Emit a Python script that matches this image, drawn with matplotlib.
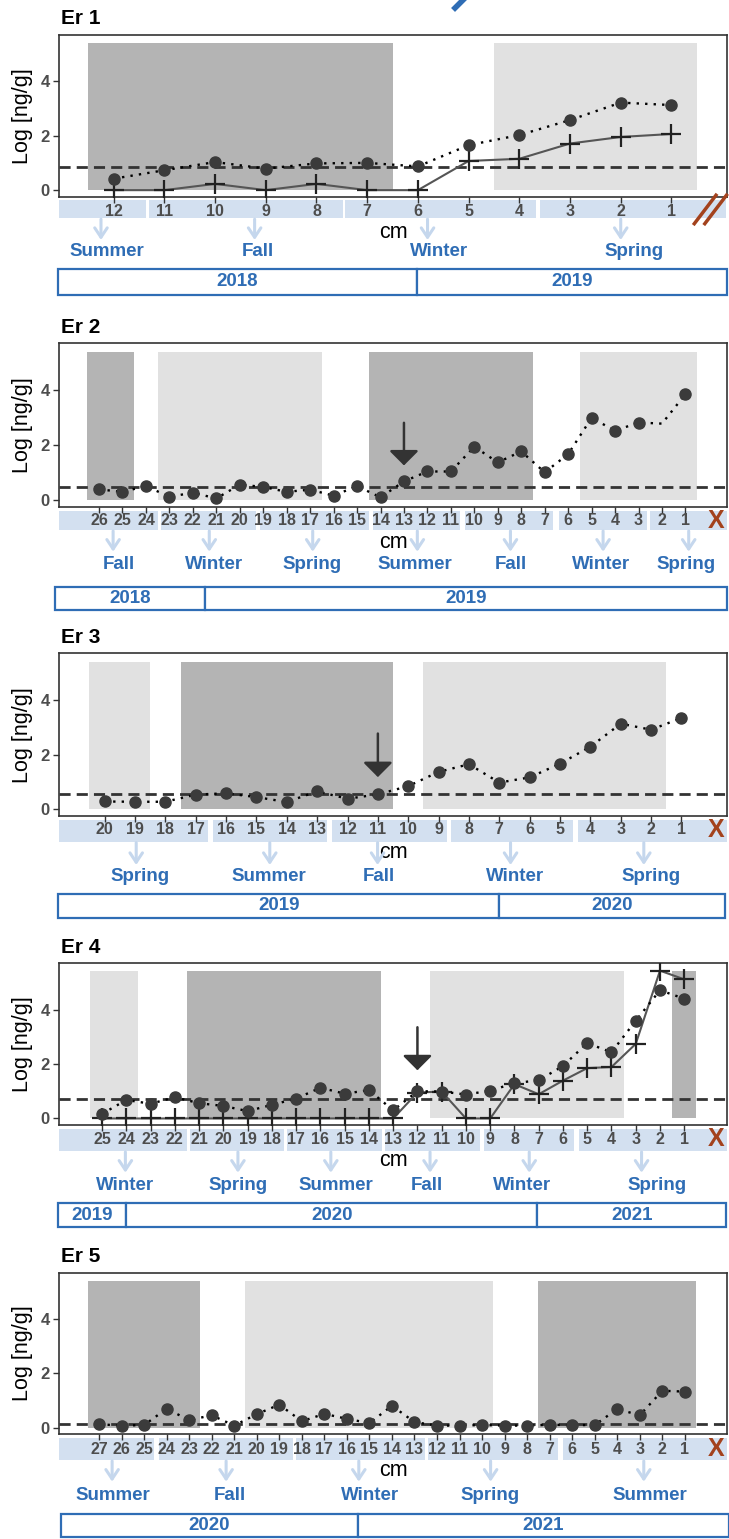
import matplotlib
matplotlib.use("Agg")
import matplotlib.pyplot as plt
import matplotlib.transforms as mtransforms
from matplotlib.patches import Rectangle
from matplotlib.lines import Line2D

plt.rcParams['font.family'] = ['Liberation Sans', 'DejaVu Sans']

W, H = 729, 1539

# ---------------- data ----------------
# Er 1
er1_cm = list(range(12, 0, -1))
er1_dots = [0.42, 0.73, 1.03, 0.79, 0.98, 1.00, 0.87, 1.65, 2.02, 2.57, 3.21, 3.12]
er1_plus = [0, 0, 0.23, 0, 0.23, 0, 0, 1.07, 1.15, 1.71, 1.95, 2.06]
er1_lod = 0.84
er1_dark = [(12.5, 6.5)]
er1_light = [(4.5, 0.5)]
er1_groups = [(13.07, 11.37), (11.30, 7.48), (7.43, 3.67), (3.59, -0.07)]
er1_seasons = ['Summer', 'Fall', 'Winter', 'Spring']
er1_season_arrow = [12.25, 9.22, 5.81, 2.0]
er1_season_text = [12.14, 9.15, 5.58, 1.74]
er1_years = ['2018', '2019']
er1_year_edges = [13.09, 6.02, -0.09]

# Er 2
er2_cm = list(range(26, 0, -1))
er2_dots = [0.39, 0.30, 0.51, 0.12, 0.27, 0.06, 0.56, 0.48, 0.30, 0.38, 0.16, 0.51, 0.10,
            0.68, 1.04, 1.04, 1.94, 1.37, 1.77, 1.01, 1.67, 2.99, 2.52, 2.82, 2.78, 3.85]
er2_no_marker = [2]
er2_lod = 0.48
er2_dark = [(26.5, 24.5), (14.5, 7.5)]
er2_light = [(23.5, 16.5), (5.5, 0.5)]
er2_groups = [(27.69, 23.48), (23.34, 19.29), (19.15, 14.51), (14.33, 10.62),
              (10.38, 6.65), (6.40, 2.65), (2.51, -0.76)]
er2_seasons = ['Fall', 'Winter', 'Spring', 'Summer', 'Fall', 'Winter', 'Spring']
er2_season_arrow = [25.40, 21.30, 16.89, 12.43, 8.46, 4.51, 0.86]
er2_season_text = [25.17, 21.10, 16.93, 12.53, 8.46, 4.59, 0.96]
er2_years = ['2018', '2019']
er2_year_edges = [27.88, 21.5, -0.76]
er2_mark = (13, 2.81, 1.26)

# Er 3
er3_cm = list(range(20, 0, -1))
er3_dots = [0.29, 0.28, 0.28, 0.54, 0.59, 0.45, 0.27, 0.66, 0.39, 0.55,
            0.85, 1.37, 1.65, 0.98, 1.17, 1.67, 2.29, 3.13, 2.91, 3.34]
er3_lod = 0.57
er3_dark = [(17.5, 10.5)]
er3_light = [(20.5, 18.5), (9.5, 1.5)]
er3_groups = [(21.49, 16.60), (16.43, 12.68), (12.51, 8.73), (8.59, 4.58), (4.41, -0.49)]
er3_seasons = ['Spring', 'Summer', 'Fall', 'Winter', 'Spring']
er3_season_arrow = [18.96, 14.56, 11.01, 6.63, 2.24]
er3_season_text = [18.85, 14.60, 10.97, 6.49, 2.00]
er3_years = ['2019', '2020']
er3_year_edges = [21.53, 7.0, -0.44]
er3_mark = (11, 2.77, 1.18)

# Er 4
er4_cm = list(range(25, 0, -1))
er4_dots = [0.17, 0.68, 0.54, 0.78, 0.56, 0.46, 0.27, 0.50, 0.73, 1.13, 0.91, 1.04, 0.30,
            1.00, 0.99, 0.88, 1.02, 1.30, 1.40, 1.93, 2.77, 2.43, 3.59, 4.71, 4.40]
er4_plus = [0, 0, 0, 0, 0, 0, 0, 0, 0, 0, 0, 0, 0,
            0.95, 0.99, 0, 0, 1.26, 0.89, 1.39, 1.85, 1.89, 2.74, 5.43, 5.11]
er4_lod = 0.73
er4_dark = [(21.5, 13.5), (1.5, 0.5)]
er4_light = [(25.5, 23.5), (11.5, 3.5)]
er4_groups = [(26.76, 21.50), (21.37, 17.49), (17.37, 13.47), (13.32, 9.42),
              (9.26, 5.55), (5.34, -0.75)]
er4_seasons = ['Winter', 'Spring', 'Summer', 'Fall', 'Winter', 'Spring']
er4_season_arrow = [24.04, 19.40, 15.57, 11.48, 7.39, 2.76]
er4_season_text = [24.04, 19.40, 15.38, 11.60, 7.70, 2.11]
er4_years = ['2019', '2020', '2021']
er4_year_edges = [26.81, 24.0, 7.05, -0.74]
er4_mark = (12, 3.35, 1.77)

# Er 5
er5_cm = list(range(27, 0, -1))
er5_dots = [0.13, 0.08, 0.10, 0.70, 0.28, 0.46, 0.08, 0.50, 0.85, 0.24, 0.51, 0.33, 0.17, 0.81,
            0.21, 0.08, 0.08, 0.10, 0.08, 0.08, 0.11, 0.10, 0.10, 0.69, 0.46, 1.36, 1.33]
er5_lod = 0.15
er5_dark = [(27.5, 22.5), (7.5, 0.5)]
er5_light = [(20.5, 9.5)]
er5_groups = [(28.76, 24.54), (24.35, 18.38), (18.26, 12.51), (12.39, 6.64), (6.41, -0.86)]
er5_seasons = ['Summer', 'Fall', 'Winter', 'Spring', 'Summer']
er5_season_arrow = [26.42, 21.36, 15.47, 9.62, 2.82]
er5_season_text = [26.38, 21.21, 14.95, 9.64, 2.57]
er5_years = ['2020', '2021']
er5_year_edges = [28.70, 15.5, -0.95]

panels = [
    dict(name='Er 1', cm=er1_cm, dots=er1_dots, plus=er1_plus, hide=[], lod=er1_lod,
         dark=er1_dark, light=er1_light, groups=er1_groups, seasons=er1_seasons,
         s_arrow=er1_season_arrow, s_text=er1_season_text, years=er1_years,
         y_edges=er1_year_edges, mark=None, xlim=(13.07, -0.09)),
    dict(name='Er 2', cm=er2_cm, dots=er2_dots, plus=None, hide=er2_no_marker, lod=er2_lod,
         dark=er2_dark, light=er2_light, groups=er2_groups, seasons=er2_seasons,
         s_arrow=er2_season_arrow, s_text=er2_season_text, years=er2_years,
         y_edges=er2_year_edges, mark=er2_mark, xlim=(27.69, -0.76)),
    dict(name='Er 3', cm=er3_cm, dots=er3_dots, plus=None, hide=[], lod=er3_lod,
         dark=er3_dark, light=er3_light, groups=er3_groups, seasons=er3_seasons,
         s_arrow=er3_season_arrow, s_text=er3_season_text, years=er3_years,
         y_edges=er3_year_edges, mark=er3_mark, xlim=(21.49, -0.49)),
    dict(name='Er 4', cm=er4_cm, dots=er4_dots, plus=er4_plus, hide=[], lod=er4_lod,
         dark=er4_dark, light=er4_light, groups=er4_groups, seasons=er4_seasons,
         s_arrow=er4_season_arrow, s_text=er4_season_text, years=er4_years,
         y_edges=er4_year_edges, mark=er4_mark, xlim=(26.76, -0.75)),
    dict(name='Er 5', cm=er5_cm, dots=er5_dots, plus=None, hide=[], lod=er5_lod,
         dark=er5_dark, light=er5_light, groups=er5_groups, seasons=er5_seasons,
         s_arrow=er5_season_arrow, s_text=er5_season_text, years=er5_years,
         y_edges=er5_year_edges, mark=None, xlim=(28.76, -0.86)),
]

# ---------------- layout (pixels) ----------------
ax_top = [34.7, 343.3, 653.3, 963.3, 1272.7]
ax_bot = [196.7, 506.7, 816.0, 1125.0, 1434.3]
band_off = [(3.3, 21.6), (4, 23.3), (4, 25.7), (4.3, 26), (4, 25.7)]
num_off = [14.5, 14, 14, 14.3, 14.7]
arrow_off = [(22.5, 43.3), (24.3, 45), (26.7, 49), (27, 47.7), (26.7, 47.4)]
season_off = [55.3, 58.3, 60.7, 61, 60.7]
year_off = [(72.6, 98), (80.6, 103.3), (78, 101.7), (78.3, 101.7), (80, 102.7)]

DARK = '#b4b4b4'
LIGHT = '#e1e1e1'
BAND = '#d3e0f0'
ARROW_BLUE = '#c5d7ed'
BLUE = '#2f6db5'
RUST = '#a3421d'
GREY_TXT = '#4d4d4d'


def fx(px):
    return px / W


def fy(px):
    return 1 - px / H


fig = plt.figure(figsize=(W / 100, H / 100), dpi=100)

for i, p in enumerate(panels):
    top, bot = ax_top[i], ax_bot[i]
    ax = fig.add_axes([fx(59.4), fy(bot), fx(726.7) - fx(59.4), (bot - top) / H])
    ax.set_xlim(*p['xlim'])
    ax.set_ylim(-0.24, 5.70)

    for x0, x1 in p['dark']:
        ax.add_patch(Rectangle((x0, 0), x1 - x0, 5.4, fc=DARK, ec='none', zorder=1))
    for x0, x1 in p['light']:
        ax.add_patch(Rectangle((x0, 0), x1 - x0, 5.4, fc=LIGHT, ec='none', zorder=1))

    ax.axhline(p['lod'], color='#333333', lw=2, ls=(0, (4, 2.2)), zorder=2)

    if p['plus'] is not None:
        ax.plot(p['cm'], p['plus'], '-', color='#555555', lw=1.5, marker='+', ms=14,
                mew=1.6, mec='#222222', zorder=3)
    shown = [k for k, c in enumerate(p['cm']) if c not in p['hide']]
    ax.plot(p['cm'], p['dots'], ls=(0, (1, 2.6)), color='black', lw=1.7, marker='o', ms=8,
            mfc='#3b3b3b', mec='#3b3b3b', markevery=shown, zorder=4)

    if p['mark'] is not None:
        mx, y_from, y_to = p['mark']
        ax.annotate('', xy=(mx, y_to), xytext=(mx, y_from),
                    arrowprops=dict(arrowstyle='-|>,head_length=0.45,head_width=0.45',
                                    mutation_scale=20, color='#333333', lw=1.8,
                                    shrinkA=0, shrinkB=0), zorder=5)

    ax.set_xticks(p['cm'])
    ax.tick_params(axis='x', length=4, width=1, color='#333333', labelbottom=False)
    ax.set_yticks([0, 2, 4])
    ax.tick_params(axis='y', length=4, width=1, color='#333333', pad=3,
                   labelsize=12, labelcolor=GREY_TXT)
    for lbl in ax.get_yticklabels():
        lbl.set_fontweight('bold')
    for sp in ax.spines.values():
        sp.set_color('#333333')
        sp.set_linewidth(1.2)

    trans = mtransforms.blended_transform_factory(ax.transData, fig.transFigure)

    # blue band with the cm numbers
    b0, b1 = band_off[i]
    for x0, x1 in p['groups']:
        ax.add_artist(Rectangle((x0, fy(bot + b1)), x1 - x0, fy(bot + b0) - fy(bot + b1),
                                transform=trans, fc=BAND, ec='none', clip_on=False, zorder=0))
    for c in p['cm']:
        ax.text(c, fy(bot + num_off[i]), str(c), transform=trans, ha='center', va='center',
                fontsize=11.5, fontweight='bold', color=GREY_TXT, clip_on=False)

    ax.text(0.5, fy(bot + 36), 'cm',
            transform=mtransforms.blended_transform_factory(ax.transAxes, fig.transFigure),
            ha='center', va='center', fontsize=15.5)

    # season arrows and names
    a0, a1 = arrow_off[i]
    for xa in p['s_arrow']:
        ax.annotate('', xy=(xa, fy(bot + a1)), xytext=(xa, fy(bot + a0)),
                    xycoords=trans, textcoords=trans, annotation_clip=False,
                    arrowprops=dict(arrowstyle='->,head_length=0.45,head_width=0.3',
                                    mutation_scale=15, color=ARROW_BLUE, lw=2.2,
                                    shrinkA=0, shrinkB=0))
    for xs, name in zip(p['s_text'], p['seasons']):
        ax.text(xs, fy(bot + season_off[i]), name, transform=trans, ha='center', va='center',
                fontsize=13.5, fontweight='bold', color=BLUE, clip_on=False)

    # year boxes
    y0, y1 = year_off[i]
    edges = p['y_edges']
    for k, yr in enumerate(p['years']):
        ax.add_artist(Rectangle((edges[k], fy(bot + y1)), edges[k + 1] - edges[k],
                                fy(bot + y0) - fy(bot + y1), transform=trans, fc='white',
                                ec=BLUE, lw=1.6, clip_on=False))
        ax.text((edges[k] + edges[k + 1]) / 2, fy(bot + (y0 + y1) / 2), yr, transform=trans,
                ha='center', va='center', fontsize=13.5, fontweight='bold', color=BLUE,
                clip_on=False)

    # end-of-core marker
    if i == 0:
        for xs in (0, 10.5):
            fig.add_artist(Line2D([fx(694.3 + xs), fx(716 + xs)], [fy(bot + 27), fy(bot - 1.5)],
                                  color=RUST, lw=2.5))
    else:
        fig.text(fx(716.5), fy(bot + num_off[i]), 'X', ha='center', va='center',
                 fontsize=18, fontweight='bold', color=RUST)

    fig.text(fx(61), fy(top - 16), p['name'], ha='left', va='center', fontsize=15,
             fontweight='bold')
    fig.text(fx(23), fy((top + bot) / 2), 'Log [ng/g]', rotation=90, ha='center',
             va='center', fontsize=15.5)

# small blue mark cut off at the top edge
fig.add_artist(Line2D([fx(455), fx(464)], [fy(8), fy(-1)], color=BLUE, lw=4))

fig.savefig('out.png', dpi=100)
